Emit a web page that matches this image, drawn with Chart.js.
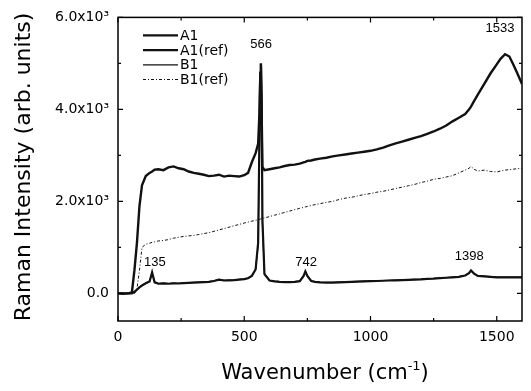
<!DOCTYPE html>
<html lang="en">
<head>
<meta charset="UTF-8">
<title>Raman spectra</title>
<script src="https://cdn.jsdelivr.net/npm/chart.js"></script>
<style>
  html, body { margin: 0; padding: 0; background: #fff; }
</style>
</head>
<body>
<canvas id="myChart" width="531" height="391"></canvas>
<script>
// wavenumber (cm-1), shared by all four spectra
const wavenumber = [0,20,40,55,65,75,85,95,110,125,
  135,145,160,180,200,220,240,260,280,300,
  320,340,360,380,400,420,440,460,480,500,
  515,530,545,555,560,563,566,569,572,580,
  600,620,640,660,680,700,720,735,742,750,
  765,780,800,825,850,875,900,925,950,975,
  1000,1025,1050,1075,1100,1125,1150,1175,1200,1225,
  1250,1275,1300,1325,1350,1375,1390,1398,1410,1425,
  1450,1475,1500,1515,1533,1550,1565,1580,1600];

const a1 = [0,-10,0,20,500,1100,1900,2350,2550,2620,
  2650,2690,2700,2680,2740,2760,2720,2700,2650,2620,
  2600,2580,2550,2560,2580,2540,2560,2550,2540,2570,
  2620,2850,3050,3250,3900,4600,5000,3900,2750,2680,
  2700,2720,2740,2770,2790,2800,2820,2850,2860,2880,
  2890,2910,2930,2950,2980,3000,3020,3040,3060,3080,
  3100,3130,3170,3220,3260,3300,3340,3380,3420,3470,
  3520,3580,3650,3740,3820,3900,4000,4060,4180,4320,
  4550,4780,4980,5100,5200,5150,4980,4800,4550];

const a1Ref = [0,0,0,0,30,80,130,170,220,260,
  460,240,210,220,210,220,215,225,230,235,
  240,245,250,270,300,280,285,290,300,310,
  330,380,520,1100,3300,4800,5000,4200,1600,420,
  280,260,250,245,245,250,265,380,480,380,
  270,250,240,235,235,240,245,250,255,260,
  265,270,275,280,285,290,295,300,305,315,
  320,330,340,350,360,390,440,500,430,380,
  370,360,350,350,350,350,350,350,350];

const b1 = [0,0,0,10,40,90,140,180,225,265,
  430,250,215,225,215,225,220,230,235,240,
  245,250,255,275,305,285,290,295,305,315,
  335,385,530,1050,3200,4700,4950,4100,1500,430,
  285,265,255,250,250,255,270,370,470,375,
  275,255,245,240,240,245,250,255,260,265,
  270,275,280,285,290,295,300,305,310,320,
  325,335,345,355,365,395,445,490,435,385,
  375,365,355,355,355,355,355,355,355];

const b1Ref = [0,0,0,0,0,100,500,1000,1070,1090,
  1110,1120,1140,1150,1170,1200,1220,1240,1250,1260,
  1280,1300,1320,1350,1380,1410,1440,1470,1500,1530,
  1550,1570,1590,1600,1610,1615,1620,1625,1630,1640,
  1670,1700,1730,1760,1790,1820,1850,1870,1880,1890,
  1910,1930,1950,1980,2000,2040,2070,2090,2120,2150,
  2170,2200,2220,2250,2280,2310,2340,2370,2410,2440,
  2480,2500,2530,2560,2620,2680,2720,2760,2700,2660,
  2680,2650,2640,2660,2680,2690,2700,2710,2720];

const seriesNames = ['A1', 'A1(ref)', 'B1', 'B1(ref)'];

const xTicks = [0, 500, 1000, 1500];
const xMinor = [250, 750, 1250];
const yTicks = [0, 2000, 4000, 6000];
const yMinor = [1000, 3000, 5000];

// peak annotations: text and anchor (wavenumber, intensity)
const peakText = ['135', '566', '742', '1398', '1533'];
const peakX = [146, 567, 745, 1391, 1513];
const peakY = [670, 5420, 670, 800, 5760];

const FONT = '"DejaVu Sans", sans-serif';

function makeSet(label, values, width, dash) {
  return {
    label: label,
    data: wavenumber.map((w, i) => ({ x: w, y: values[i] })),
    borderColor: '#111',
    borderWidth: width,
    borderDash: dash,
    pointRadius: 0,
    tension: 0,
    fill: false
  };
}

// frame, inward ticks, legend, titles, peak labels
const decorPlugin = {
  id: 'decor',
  afterDraw(chart) {
    const ctx = chart.ctx;
    const a = chart.chartArea;
    const xs = chart.scales.x, ys = chart.scales.y;
    ctx.save();
    ctx.strokeStyle = '#000';
    ctx.lineWidth = 1.5;
    ctx.strokeRect(a.left, a.top, a.right - a.left, a.bottom - a.top);

    ctx.lineWidth = 1.2;
    function xt(v, len) {
      const p = xs.getPixelForValue(v);
      ctx.beginPath();
      ctx.moveTo(p, a.bottom); ctx.lineTo(p, a.bottom - len);
      ctx.moveTo(p, a.top); ctx.lineTo(p, a.top + len);
      ctx.stroke();
    }
    function yt(v, len) {
      const p = ys.getPixelForValue(v);
      ctx.beginPath();
      ctx.moveTo(a.left, p); ctx.lineTo(a.left + len, p);
      ctx.moveTo(a.right, p); ctx.lineTo(a.right - len, p);
      ctx.stroke();
    }
    xTicks.forEach(v => xt(v, 5));
    xMinor.forEach(v => xt(v, 3));
    yTicks.forEach(v => yt(v, 5));
    yMinor.forEach(v => yt(v, 3));

    // legend
    ctx.fillStyle = '#000';
    ctx.font = '14px ' + FONT;
    ctx.textBaseline = 'middle';
    ctx.textAlign = 'left';
    chart.data.datasets.forEach((d, i) => {
      const yy = a.top + 18 + i * 14.7;
      ctx.save();
      ctx.strokeStyle = d.borderColor;
      ctx.lineWidth = d.borderWidth;
      ctx.setLineDash(d.borderDash || []);
      ctx.beginPath();
      ctx.moveTo(a.left + 25, yy);
      ctx.lineTo(a.left + 60, yy);
      ctx.stroke();
      ctx.restore();
      ctx.fillText(d.label, a.left + 62, yy + 1);
    });

    // peak labels
    ctx.font = '13px "Liberation Sans", Arial, sans-serif';
    ctx.textAlign = 'center';
    peakText.forEach((t, i) => {
      ctx.fillText(t, xs.getPixelForValue(peakX[i]), ys.getPixelForValue(peakY[i]));
    });

    // x title with superscript
    ctx.textBaseline = 'alphabetic';
    ctx.textAlign = 'left';
    ctx.font = '21px ' + FONT;
    const t1 = 'Wavenumber (cm', t3 = ')';
    const w1 = ctx.measureText(t1).width, w3 = ctx.measureText(t3).width;
    ctx.font = '13px ' + FONT;
    const w2 = ctx.measureText('-1').width;
    let x0 = 325 - (w1 + w2 + w3) / 2;
    ctx.font = '21px ' + FONT;
    ctx.fillText(t1, x0, 379);
    ctx.font = '13px ' + FONT;
    ctx.fillText('-1', x0 + w1, 370);
    ctx.font = '21px ' + FONT;
    ctx.fillText(t3, x0 + w1 + w2, 379);

    // y title
    ctx.translate(30, 167);
    ctx.rotate(-Math.PI / 2);
    ctx.textAlign = 'center';
    ctx.font = '22px ' + FONT;
    ctx.fillText('Raman Intensity (arb. units)', 0, 0);
    ctx.restore();
  }
};

const ctx = document.getElementById('myChart').getContext('2d');
const myChart = new Chart(ctx, {
  type: 'line',
  data: {
    datasets: [
      makeSet(seriesNames[0], a1, 2.4, []),
      makeSet(seriesNames[1], a1Ref, 2.2, []),
      makeSet(seriesNames[2], b1, 1.2, []),
      makeSet(seriesNames[3], b1Ref, 1, [3, 2, 1, 2])
    ]
  },
  options: {
    responsive: false,
    animation: false,
    layout: { padding: { left: 0, top: 14, right: 9, bottom: 0 } },
    plugins: { legend: { display: false }, tooltip: { enabled: false } },
    scales: {
      x: {
        type: 'linear',
        min: 0,
        max: 1600,
        afterBuildTicks: s => { s.ticks = xTicks.map(v => ({ value: v })); },
        afterFit: s => { s.height = 70; },
        grid: { display: false, drawTicks: false },
        border: { display: false },
        ticks: {
          padding: 8,
          color: '#000',
          font: { family: 'DejaVu Sans', size: 14 },
          callback: v => String(v)
        }
      },
      y: {
        type: 'linear',
        min: -600,
        max: 6000,
        afterBuildTicks: s => { s.ticks = yTicks.map(v => ({ value: v })); },
        afterFit: s => { s.width = 118; },
        grid: { display: false, drawTicks: false },
        border: { display: false },
        ticks: {
          padding: 9,
          color: '#000',
          font: { family: 'DejaVu Sans', size: 14 },
          callback: v => v === 0 ? '0.0' : (v / 1000).toFixed(1) + 'x10\u00B3'
        }
      }
    }
  },
  plugins: [decorPlugin]
});
</script>
</body>
</html>
